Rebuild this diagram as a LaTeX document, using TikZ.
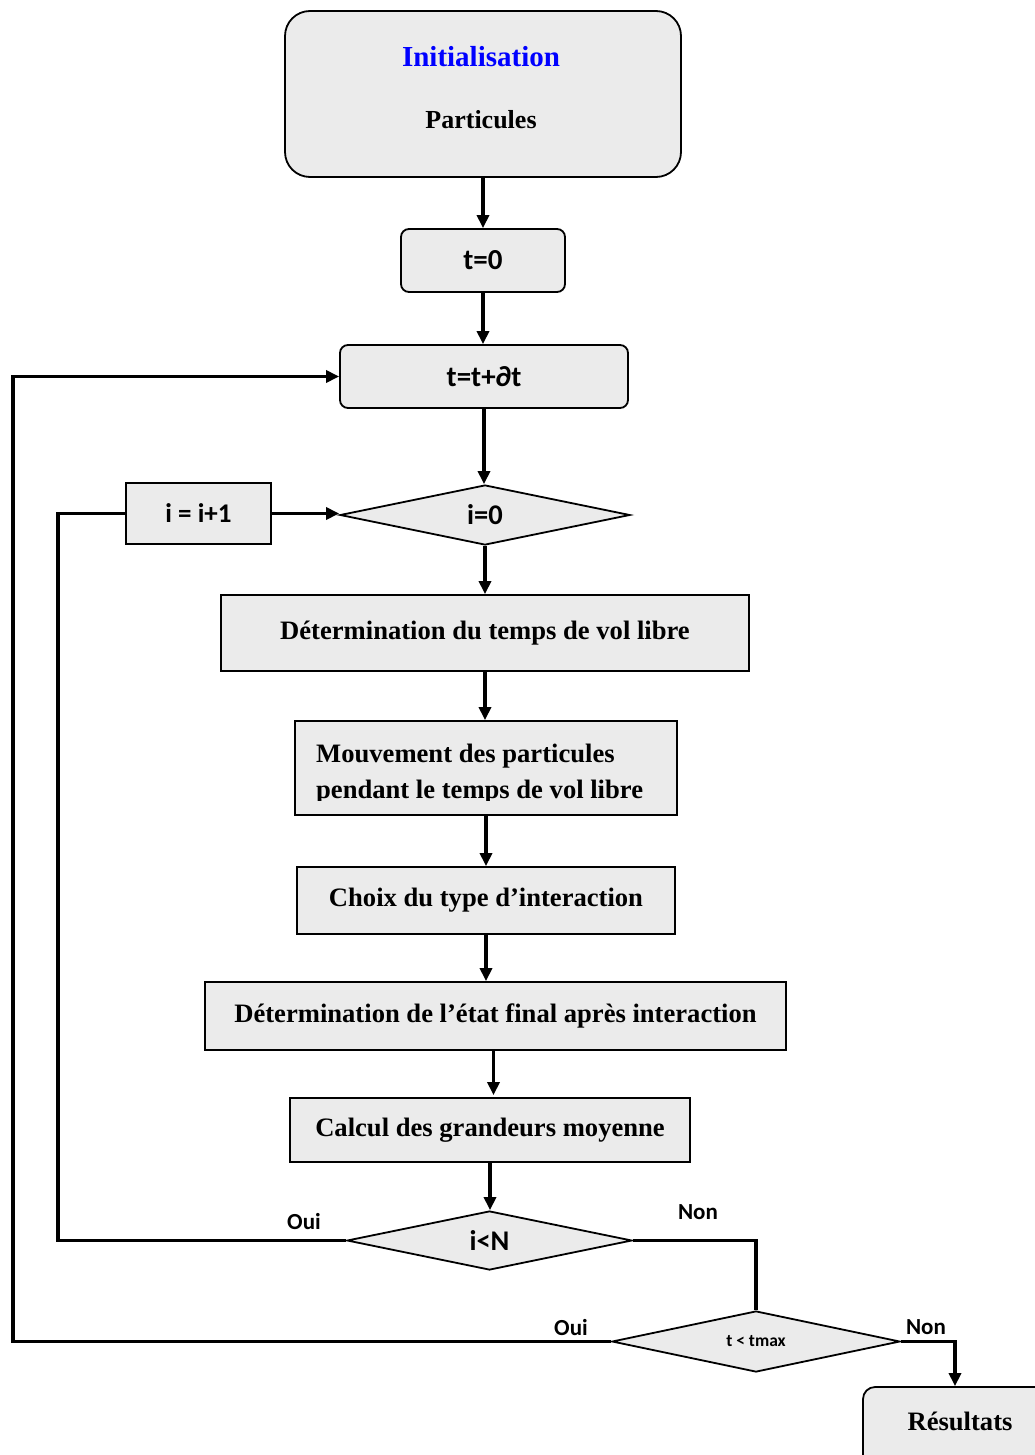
\documentclass[tikz,border=0pt]{standalone}
\usepackage{fontspec}
\setmainfont{Liberation Serif}
\newfontfamily\calfont{Carlito}
\usetikzlibrary{shapes.geometric,arrows.meta}
\definecolor{boxgray}{HTML}{EBEBEB}
\definecolor{initblue}{HTML}{0000FF}
\begin{document}
\begin{tikzpicture}[x=1pt,y=-1pt,
  box/.style={draw=black, line width=1.8pt, fill=boxgray, inner sep=0pt, align=center,
    font=\fontsize{26.6}{31}\selectfont\bfseries},
  sbox/.style={box, font=\calfont\fontsize{29}{34}\selectfont\bfseries},
  dia/.style={diamond, aspect=4.8, draw=black, line width=1.8pt, fill=boxgray, inner sep=0pt,
    font=\calfont\fontsize{28.5}{34}\selectfont\bfseries},
  conn/.style={line width=3.5pt, -{Triangle[length=13pt,width=12pt]}},
  wire/.style={line width=3.5pt},
  lbl/.style={font=\calfont\fontsize{23}{27}\selectfont\bfseries, inner sep=0pt}]
\useasboundingbox (0,0) rectangle (1034,1455);

\node[box, rounded corners=25pt, minimum width=396pt, minimum height=166pt] (init) at (483,94) {};
\node[font=\fontsize{29}{34}\selectfont\bfseries, text=initblue] (initt) at (481,57) {Initialisation};
\node[font=\fontsize{26}{31}\selectfont\bfseries] (part) at (481,120) {Particules};

\node[sbox, rounded corners=8pt, minimum width=164pt, minimum height=63pt] (t0) at (483,260.5) {\raisebox{-3pt}{t=0}};
\node[sbox, rounded corners=8pt, minimum width=288pt, minimum height=63pt] (tt) at (484,376.5) {\raisebox{-2pt}{t=t+∂t}};
\node[dia, minimum width=290pt, minimum height=60pt] (d0) at (485,515) {\raisebox{-2pt}{i=0}};
\node[sbox, font=\calfont\fontsize{27}{32}\selectfont\bfseries, minimum width=145pt, minimum height=61pt] (inc) at (198.5,513.5) {i = i+1};
\node[box, minimum width=528pt, minimum height=76pt] (det1) at (485,633) {Détermination du temps de vol libre};
\node[box, minimum width=382pt, minimum height=94pt] (mouv) at (486,768) {};
\begin{scope}
  \clip (297,723) rectangle (675,800);
  \node[font=\fontsize{26.6}{31}\selectfont\bfseries, anchor=base west, inner sep=0pt] (m1) at (316,762) {Mouvement des particules};
  \node[font=\fontsize{26.6}{31}\selectfont\bfseries, anchor=base west, inner sep=0pt] (m2) at (316,798) {pendant le temps de vol libre};
\end{scope}
\node[box, minimum width=378pt, minimum height=67pt] (choix) at (486,900.5) {Choix du type d’interaction};
\node[box, minimum width=581pt, minimum height=68pt] (det2) at (495.5,1016) {Détermination de l’état final après interaction};
\node[box, minimum width=400pt, minimum height=64pt] (calc) at (490,1130) {Calcul des grandeurs moyenne};
\node[dia, minimum width=285pt, minimum height=59pt] (dN) at (489.5,1240.5) {i<N};
\node[dia, minimum width=288pt, minimum height=61pt, font=\calfont\fontsize{17.5}{21}\selectfont\bfseries] (dT) at (756,1341.5) {t < tmax};
\node[box, rounded corners=12pt, minimum width=184pt, minimum height=82pt] (res) at (955,1428) {};
\node[font=\fontsize{26.6}{31}\selectfont\bfseries] (rest) at (960,1421) {Résultats};

\draw[conn] (init.south) -- (init.south |- t0.north);
\draw[conn] (t0.south) -- (t0.south |- tt.north);
\draw[conn] (tt.south) -- (tt.south |- d0.north);
\draw[conn] (inc.east) -- (inc.east -| d0.west);
\draw[conn] (d0.south) -- (d0.south |- det1.north);
\draw[conn] (det1.south) -- (det1.south |- mouv.north);
\draw[conn] (mouv.south) -- (mouv.south |- choix.north);
\draw[conn] (choix.south) -- (choix.south |- det2.north);
\draw[conn] (calc.north -| det2.south) ++(-2,-48) -- ++(0,46);
\draw[conn] (calc.south) -- (calc.south |- dN.north);
\draw[wire] (inc.west) -- ++(-67,0) |- (dN.west);
\draw[wire] (dN.east) -| (dT.north);
\draw[conn] (dT.west) -- ++(-598,0) |- (tt.west);
\draw[conn] (dT.east) -| (res.north);

\node[lbl] (oui1) at (304,1222) {Oui};
\node[lbl] (non1) at (698,1212) {Non};
\node[lbl] (oui2) at (571,1327) {Oui};
\node[lbl] (non2) at (926,1327) {Non};
\end{tikzpicture}
\end{document}
